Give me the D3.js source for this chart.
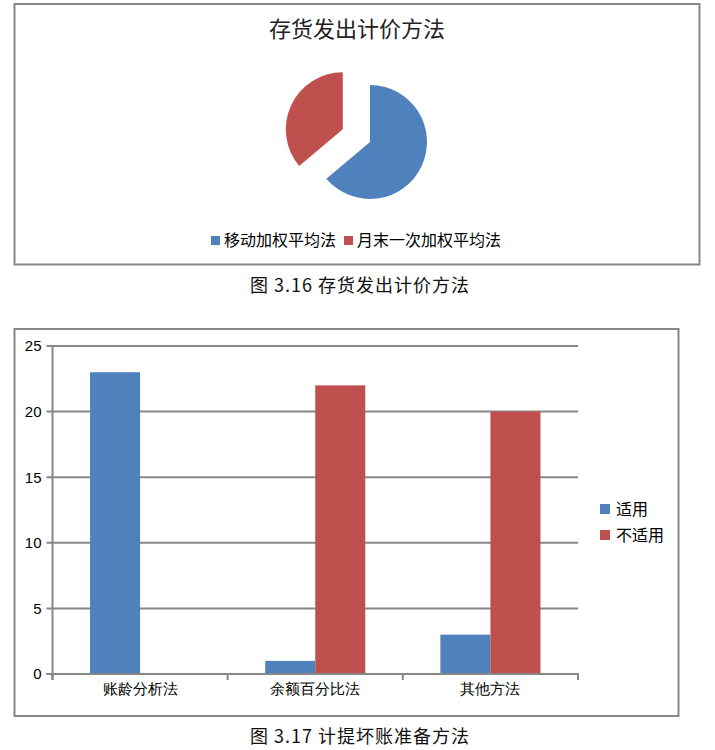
<!DOCTYPE html>
<html>
<head>
<meta charset="utf-8">
<script src="https://cdn.jsdelivr.net/npm/d3@7"></script>
<style>
  body { margin: 0; background: #fff; }
  svg { display: block; font-family: "Noto Sans CJK SC", "Noto Sans", sans-serif; }
  .frame { fill: none; stroke: #878787; stroke-width: 2; }
  .axis text { font-size: 15px; fill: #000; }
</style>
</head>
<body>
<div id="chart"></div>
<script>
// data for the pie (figure 3.16)
var pieLabels = ["移动加权平均法", "月末一次加权平均法"];
var pieValues = [23, 13];
var pieColors = ["#4f81bd", "#c0504d"];

// data for the bar chart (figure 3.17)
var barCategories = ["账龄分析法", "余额百分比法", "其他方法"];
var barSeries = ["适用", "不适用"];
var barApplicable = [23, 1, 3];
var barNotApplicable = [0, 22, 20];
var yTicks = [0, 5, 10, 15, 20, 25];

var svg = d3.select('#chart').append('svg')
  .attr('width', 715)
  .attr('height', 750);

// ---------- top chart: pie ----------
svg.append('rect').attr('class', 'frame')
  .attr('x', 14.5).attr('y', 4).attr('width', 685).attr('height', 260.5);

svg.append('text')
  .attr('x', 357).attr('y', 37)
  .attr('text-anchor', 'middle')
  .attr('font-size', 22)
  .attr('fill', '#222')
  .text('存货发出计价方法');

var radius = 57;
var pieG = svg.append('g').attr('transform', 'translate(370,142)');
var pie = d3.pie().sort(null).value(function(d) { return d; });
var arc = d3.arc().innerRadius(0).outerRadius(radius);
var explode = 30;

pieG.selectAll('path')
  .data(pie(pieValues))
  .enter().append('path')
  .attr('fill', function(d, i) { return pieColors[i]; })
  .attr('transform', function(d, i) {
    if (i === 0) return null;
    var mid = (d.startAngle + d.endAngle) / 2;
    return 'translate(' + (Math.sin(mid) * explode) + ',' + (-Math.cos(mid) * explode) + ')';
  })
  .attr('d', arc);

// pie legend
var pieLegendX = [211, 344];
var pl = svg.append('g').selectAll('g')
  .data(pieLabels)
  .enter().append('g')
  .attr('transform', function(d, i) { return 'translate(' + pieLegendX[i] + ',236)'; });
pl.append('rect').attr('width', 9).attr('height', 9)
  .attr('fill', function(d, i) { return pieColors[i]; });
pl.append('text').attr('x', 13).attr('y', 10)
  .attr('font-size', 16).attr('fill', '#000')
  .text(function(d) { return d; });

svg.append('text')
  .attr('x', 360).attr('y', 292)
  .attr('text-anchor', 'middle')
  .attr('font-size', 18)
  .attr('letter-spacing', 1)
  .attr('fill', '#111')
  .text('图 3.16 存货发出计价方法');

// ---------- bottom chart: grouped bars ----------
svg.append('rect').attr('class', 'frame')
  .attr('x', 14.5).attr('y', 329).attr('width', 664).attr('height', 387);

var plot = {left: 52.5, right: 578, top: 346, bottom: 674};

var x0 = d3.scaleBand()
  .domain(barCategories)
  .range([plot.left, plot.right])
  .paddingInner(0).paddingOuter(0);

var x1 = d3.scaleBand()
  .domain(barSeries)
  .range([0, x0.bandwidth()])
  .paddingInner(0)
  .paddingOuter(0.75);

var y = d3.scaleLinear()
  .domain([0, 25])
  .range([plot.bottom, plot.top]);

// gridlines
svg.append('g').selectAll('line')
  .data(yTicks)
  .enter().append('line')
  .attr('x1', plot.left - 6).attr('x2', plot.right)
  .attr('y1', function(d) { return y(d); })
  .attr('y2', function(d) { return y(d); })
  .attr('stroke', '#878787').attr('stroke-width', 2);

// y axis
var yAxis = svg.append('g')
  .attr('class', 'axis')
  .attr('transform', 'translate(' + plot.left + ',0)')
  .call(d3.axisLeft(y).tickValues(yTicks).tickSize(6).tickPadding(5));
yAxis.select('.domain').remove();
yAxis.selectAll('.tick line').remove();
svg.append('line')
  .attr('x1', plot.left).attr('x2', plot.left)
  .attr('y1', plot.top).attr('y2', plot.bottom + 6)
  .attr('stroke', '#878787').attr('stroke-width', 2);

// bars
var barColors = d3.scaleOrdinal().domain(barSeries).range(["#4f81bd", "#c0504d"]);
var barRows = barCategories.map(function(c, i) {
  return {cat: c, values: [
    {key: barSeries[0], value: barApplicable[i]},
    {key: barSeries[1], value: barNotApplicable[i]}
  ]};
});

svg.append('g').selectAll('g')
  .data(barRows)
  .enter().append('g')
  .attr('transform', function(d) { return 'translate(' + x0(d.cat) + ',0)'; })
  .selectAll('rect')
  .data(function(d) { return d.values; })
  .enter().append('rect')
  .attr('x', function(d) { return x1(d.key); })
  .attr('width', x1.bandwidth())
  .attr('y', function(d) { return y(d.value); })
  .attr('height', function(d) { return y(0) - y(d.value); })
  .attr('fill', function(d) { return barColors(d.key); });

// x axis
var xAxis = svg.append('g')
  .attr('class', 'axis')
  .attr('transform', 'translate(0,' + plot.bottom + ')')
  .call(d3.axisBottom(x0).tickSize(0).tickPadding(9));
xAxis.select('.domain').remove();
xAxis.selectAll('.tick text').attr('font-size', 16);
svg.append('line')
  .attr('x1', plot.left - 6).attr('x2', plot.right + 1)
  .attr('y1', plot.bottom).attr('y2', plot.bottom)
  .attr('stroke', '#878787').attr('stroke-width', 2);
svg.append('g').selectAll('line')
  .data(barCategories.concat(['end']))
  .enter().append('line')
  .attr('x1', function(d, i) { return i < barCategories.length ? x0(d) : plot.right; })
  .attr('x2', function(d, i) { return i < barCategories.length ? x0(d) : plot.right; })
  .attr('y1', plot.bottom).attr('y2', plot.bottom + 6)
  .attr('stroke', '#878787').attr('stroke-width', 2);

// bar legend
var bl = svg.append('g').selectAll('g')
  .data(barSeries)
  .enter().append('g')
  .attr('transform', function(d, i) { return 'translate(600,' + (504 + i * 26) + ')'; });
bl.append('rect').attr('width', 10).attr('height', 10)
  .attr('fill', function(d) { return barColors(d); });
bl.append('text').attr('x', 16).attr('y', 11)
  .attr('font-size', 16).attr('fill', '#000')
  .text(function(d) { return d; });

svg.append('text')
  .attr('x', 360).attr('y', 743)
  .attr('text-anchor', 'middle')
  .attr('font-size', 18)
  .attr('letter-spacing', 1)
  .attr('fill', '#111')
  .text('图 3.17 计提坏账准备方法');
</script>
</body>
</html>
